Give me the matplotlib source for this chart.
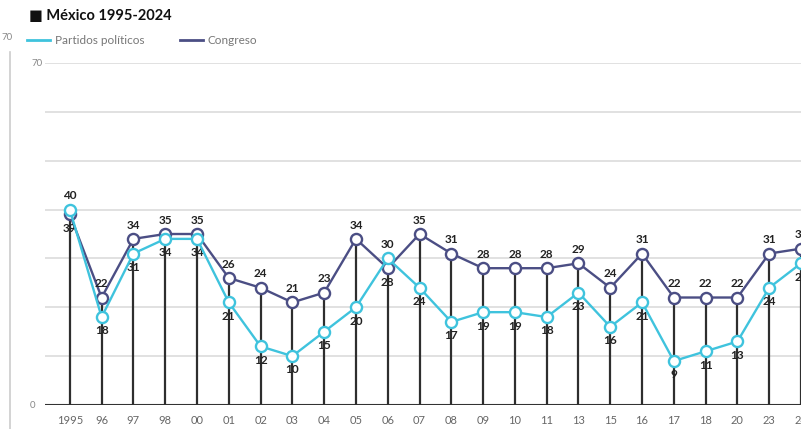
import matplotlib
matplotlib.use("Agg")
import matplotlib.pyplot as plt
import numpy as np

years = ["1995", "96", "97", "98", "00", "01", "02", "03", "04", "05", "06", "07",
         "08", "09", "10", "11", "13", "15", "16", "17", "18", "20", "23", "24"]
partidos = [40, 18, 31, 34, 34, 21, 12, 10, 15, 20, 30, 24,
            17, 19, 19, 18, 23, 16, 21, 9, 11, 13, 24, 29]
congreso = [39, 22, 34, 35, 35, 26, 24, 21, 23, 34, 28, 35,
            31, 28, 28, 28, 29, 24, 31, 22, 22, 22, 31, 32]

c_part = "#3fc3dd"
c_cong = "#4b4e84"
W, H = 801, 429

plt.rcParams['font.family'] = ['Lato', 'DejaVu Sans']
fig = plt.figure(figsize=(W / 100, H / 100), dpi=100)
ax = fig.add_axes([45 / W, (H - 405) / H, (W - 45) / W, 342 / H])

x = np.arange(len(years))
ax.set_xlim((45 - 70) / 32, (W - 70) / 32)
ax.set_ylim(0, 70)

for g in range(10, 71, 10):
    ax.axhline(g, color="#dcdcdc", lw=1.2, zorder=0)
ax.axhline(0, color="#333333", lw=1.5, zorder=1)

# stems go up to the higher of the two values
top = np.maximum(partidos, congreso)
ax.vlines(x, 0, top, color="#2e2e2e", lw=1.6, zorder=1)

ax.plot(x, congreso, color=c_cong, lw=1.7, marker="o", ms=8, mfc="white",
        mec=c_cong, mew=1.7, zorder=3)
ax.plot(x, partidos, color=c_part, lw=1.7, marker="o", ms=8, mfc="white",
        mec=c_part, mew=1.7, zorder=4)

for i in range(len(years)):
    p, c = partidos[i], congreso[i]
    if p > c:
        hi, lo = p, c
    else:
        hi, lo = c, p
    ax.annotate(str(hi), (x[i], hi), xytext=(0, 6), textcoords="offset points",
                ha="center", va="bottom", fontsize=8.5, fontweight="bold",
                color="#222222", annotation_clip=False, clip_on=True)
    ax.annotate(str(lo), (x[i], lo), xytext=(0, -6), textcoords="offset points",
                ha="center", va="top", fontsize=8.5, fontweight="bold",
                color="#222222", annotation_clip=False, clip_on=True)

ax.set_xticks(x)
ax.set_xticklabels(years, fontsize=8, color="#666666")
ax.tick_params(axis="x", length=0, pad=7)
ax.set_yticks([])
for s in ax.spines.values():
    s.set_visible(False)

fig.text(30 / W, 1 - 405 / H, "0", fontsize=7, color="#888888", va="center", ha="left")
fig.text(31 / W, 1 - 63 / H, "70", fontsize=7, color="#888888", va="center", ha="left")
fig.text(1 / W, 1 - 38 / H, "70", fontsize=7, color="#888888", va="center", ha="left")
fig.add_artist(plt.Line2D([10 / W, 10 / W], [0, 1 - 52 / H], color="#cccccc", lw=1.2))

fig.text(29 / W, 1 - 16 / H, "■ México 1995-2024", fontsize=10.5, fontweight="bold",
         color="#111111", va="center", ha="left")
fig.add_artist(plt.Line2D([27 / W, 50 / W], [1 - 40 / H] * 2, color=c_part, lw=2))
fig.text(55 / W, 1 - 40 / H, "Partidos políticos", fontsize=8.5, color="#777777", va="center")
fig.add_artist(plt.Line2D([180 / W, 203 / W], [1 - 40 / H] * 2, color=c_cong, lw=2))
fig.text(207 / W, 1 - 40 / H, "Congreso", fontsize=8.5, color="#777777", va="center")

fig.savefig("out.png", dpi=100)
